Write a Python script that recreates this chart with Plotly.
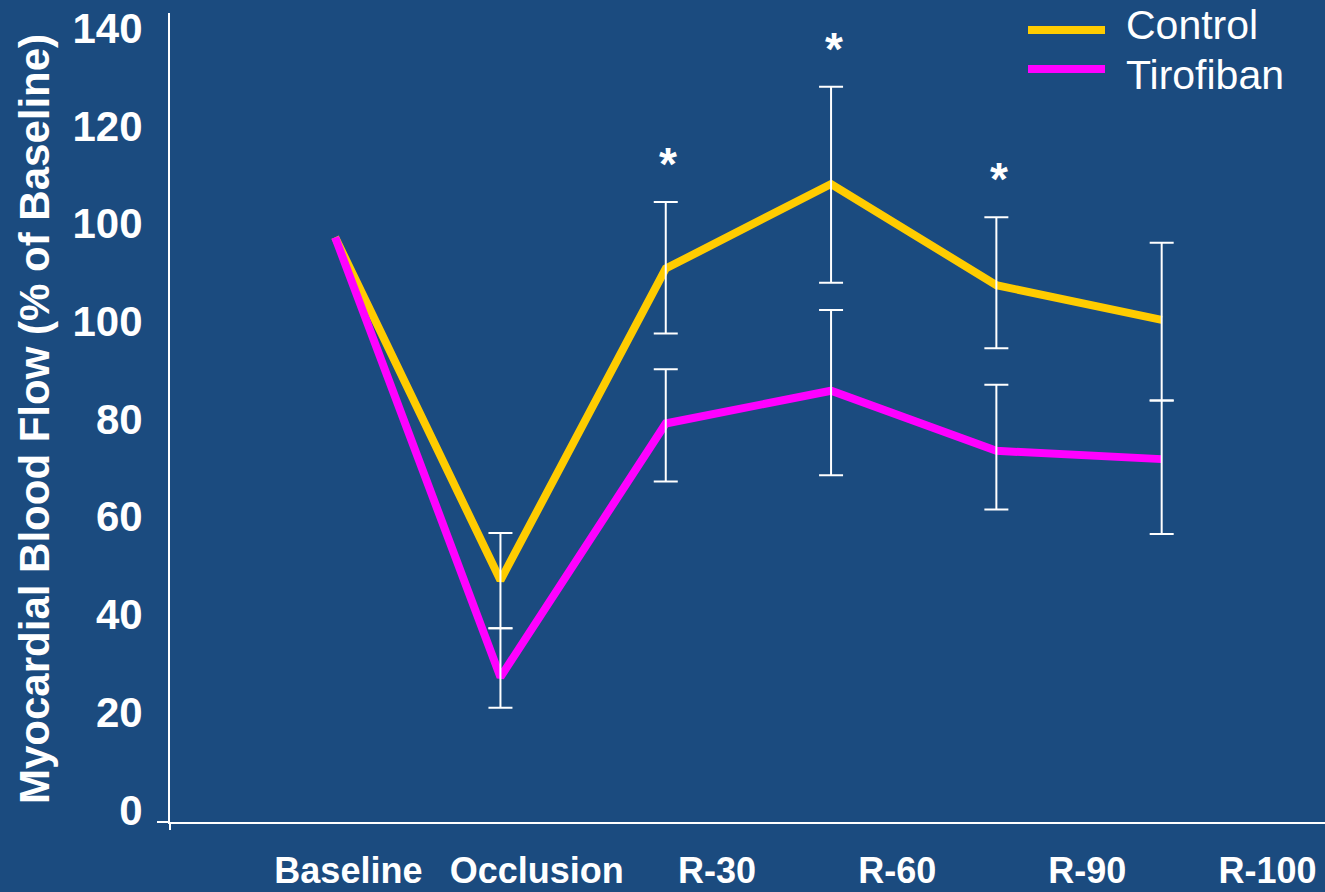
import plotly.graph_objects as go

# Time points of the protocol
categories = ["Baseline", "Occlusion", "R-30", "R-60", "R-90", "R-100"]

# Mean myocardial blood flow per group (chart units)
control = [117.2, 47.0, 110.8, 128.1, 107.4, 100.3]
tirofiban = [117.2, 27.2, 79.1, 85.8, 73.5, 71.8]

# Upper / lower ends of the error bars (no bar at baseline)
control_hi = [None, 56.7, 124.4, 148.0, 121.3, 116.1]
control_lo = [None, 37.2, 97.5, 107.9, 94.5, 83.8]
tirofiban_hi = [None, 37.2, 90.2, 102.3, 87.0, 83.8]
tirofiban_lo = [None, 20.9, 67.2, 68.5, 61.5, 56.5]

# Time points flagged as significant
significant = ["R-30", "R-60", "R-90"]

# Y-axis tick values and the text printed at them
y_tick_values = [0, 20, 40, 60, 80, 100, 120, 140, 160]
y_tick_labels = ["0", "20", "40", "60", "80", "100", "100", "120", "140"]

# ---------------------------------------------------------------- styling
BG = "#1B4B7F"
GOLD = "#FFCC00"
MAGENTA = "#FF00FF"
WHITE = "#FFFFFF"
FONT = "Liberation Sans, Arial, sans-serif"

W, H = 1325, 892
ML, MR, MT, MB = 170, 0, 13, 70
PW, PH = W - ML - MR, H - MT - MB

# where the category names sit along the x axis (axis units)
x_label_pos = [0.08, 1.22, 2.31, 3.40, 4.55, 5.64]


def px_x(p):
    return (p - ML) / PW


def px_y(p):
    return (H - MB - p) / PH


xi = list(range(len(categories)))

fig = go.Figure()

fig.add_trace(go.Scatter(x=xi, y=control, mode="lines", name="Control",
                         line=dict(color=GOLD, width=8), showlegend=False))
fig.add_trace(go.Scatter(x=xi, y=tirofiban, mode="lines", name="Tirofiban",
                         line=dict(color=MAGENTA, width=8), showlegend=False))


def error_trace(values, hi, lo):
    idx = [i for i in xi if hi[i] is not None]
    return go.Scatter(
        x=[xi[i] for i in idx],
        y=[values[i] for i in idx],
        mode="markers",
        marker=dict(size=1, color="rgba(0,0,0,0)"),
        error_y=dict(
            type="data", symmetric=False,
            array=[hi[i] - values[i] for i in idx],
            arrayminus=[values[i] - lo[i] for i in idx],
            color=WHITE, thickness=2, width=12,
        ),
        showlegend=False, hoverinfo="skip",
    )


fig.add_trace(error_trace(control, control_hi, control_lo))
fig.add_trace(error_trace(tirofiban, tirofiban_hi, tirofiban_lo))

annotations = []

# significance stars above the control error bars
for name in significant:
    i = categories.index(name)
    annotations.append(dict(
        x=xi[i] + 0.015, y=control_hi[i], xref="x", yref="y", text="*",
        showarrow=False, yanchor="bottom", yshift=10,
        font=dict(family=FONT, size=46, color=WHITE, weight="bold"),
    ))

# y-axis title
annotations.append(dict(
    x=px_x(35), y=px_y(419), xref="paper", yref="paper",
    text="Myocardial Blood Flow (% of Baseline)", textangle=-90,
    showarrow=False, xanchor="center", yanchor="middle",
    font=dict(family=FONT, size=42, color=WHITE, weight="bold"),
))

# legend
legend_items = [("Control", GOLD, 30, 25), ("Tirofiban", MAGENTA, 69, 75)]
shapes = []
for label, color, ly, ty in legend_items:
    shapes.append(dict(type="line", xref="paper", yref="paper",
                       x0=px_x(1028), x1=px_x(1105), y0=px_y(ly), y1=px_y(ly),
                       line=dict(color=color, width=8)))
    annotations.append(dict(
        x=px_x(1124), y=px_y(ty), xref="paper", yref="paper", text=label,
        showarrow=False, xanchor="left", yanchor="middle",
        font=dict(family=FONT, size=41, color=WHITE),
    ))

# axis cross: short extensions past the origin
shapes.append(dict(type="line", xref="paper", yref="paper",
                   x0=px_x(157), x1=0, y0=0, y1=0,
                   line=dict(color=WHITE, width=2)))
shapes.append(dict(type="line", xref="paper", yref="paper",
                   x0=0, x1=0, y0=0, y1=px_y(830),
                   line=dict(color=WHITE, width=2)))

fig.update_layout(
    width=W, height=H,
    margin=dict(l=ML, r=MR, t=MT, b=MB),
    paper_bgcolor=BG, plot_bgcolor=BG,
    showlegend=False,
    annotations=annotations,
    shapes=shapes,
    xaxis=dict(
        range=[-0.999, 5.988], automargin=False,
        tickmode="array", tickvals=x_label_pos, ticktext=categories,
        ticks="", showgrid=False, zeroline=False,
        showline=True, linecolor=WHITE, linewidth=2,
        tickfont=dict(family=FONT, size=36, color=WHITE, weight="bold"),
        ticklabelstandoff=16,
    ),
    yaxis=dict(
        range=[-2.46, 163.1], automargin=False,
        tickmode="array", tickvals=y_tick_values, ticktext=y_tick_labels,
        ticks="", showgrid=False, zeroline=False,
        showline=True, linecolor=WHITE, linewidth=2,
        tickfont=dict(family=FONT, size=42, color=WHITE, weight="bold"),
        ticklabelstandoff=17,
    ),
)

fig.write_html("out.html")
